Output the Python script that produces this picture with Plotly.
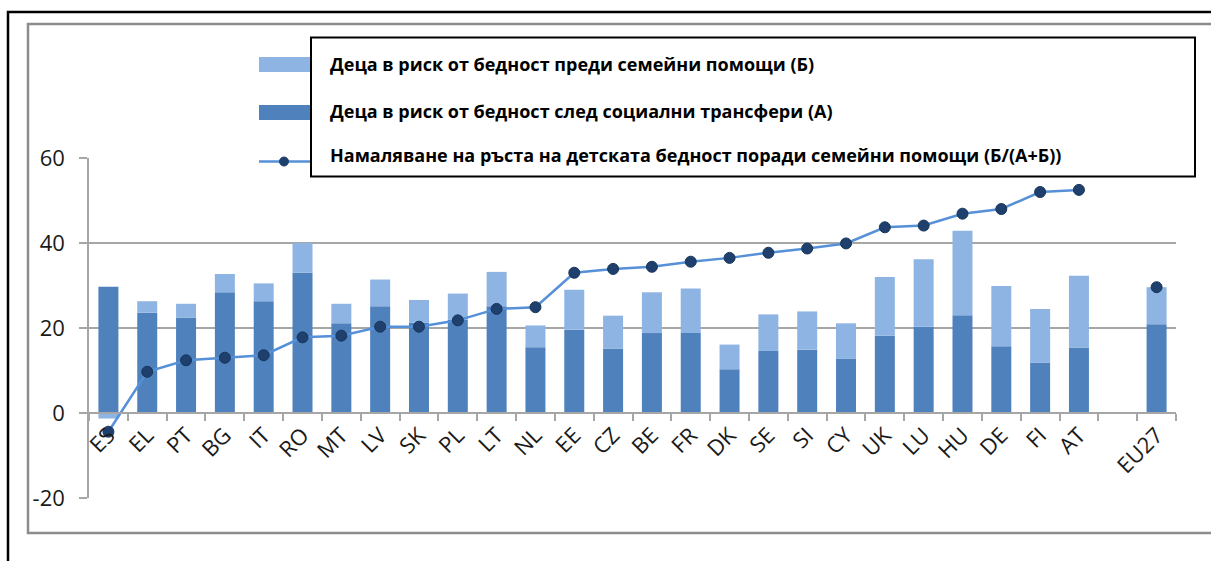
import plotly.graph_objects as go

# ---- data ----
countries = ["ES", "EL", "PT", "BG", "IT", "RO", "MT", "LV", "SK", "PL", "LT", "NL", "EE",
             "CZ", "BE", "FR", "DK", "SE", "SI", "CY", "UK", "LU", "HU", "DE", "FI", "AT",
             " ", "EU27"]
after_transfers = [29.7, 23.6, 22.4, 28.4, 26.3, 33.0, 21.1, 25.1, 21.2, 22.0, 25.1, 15.5, 19.6,
                   15.2, 18.8, 18.8, 10.3, 14.6, 14.9, 12.8, 18.2, 20.3, 23.0, 15.7, 11.9, 15.4,
                   None, 20.9]
family_benefit_part = [-1.3, 2.7, 3.3, 4.3, 4.2, 7.0, 4.6, 6.3, 5.4, 6.1, 8.1, 5.1, 9.4,
                       7.7, 9.6, 10.5, 5.8, 8.6, 9.0, 8.3, 13.8, 15.9, 19.9, 14.2, 12.6, 16.9,
                       None, 8.7]
reduction_pct = [-4.4, 9.7, 12.4, 13.0, 13.6, 17.8, 18.2, 20.3, 20.3, 21.8, 24.5, 24.9, 33.0,
                 33.9, 34.4, 35.6, 36.5, 37.7, 38.7, 39.9, 43.7, 44.1, 46.9, 48.0, 52.0, 52.5,
                 None, 29.6]
y_tickvals = [-20, 0, 20, 40, 60]
y_ticktext = ["-20", "0", "20", "40", "60"]
series_names = [
    "Деца в риск от бедност преди семейни помощи (Б)",
    "Деца в риск от бедност след социални трансфери (А)",
    "Намаляване на ръста на детската бедност поради семейни помощи (Б/(А+Б))",
]

# ---- style ----
C_LIGHT = "#8EB4E3"
C_DARK = "#4F81BD"
C_LINE = "#5590D8"
C_MARK = "#1F3F6C"
GRID = "#A6A6A6"
FONT = "'Open Sans', Lato, sans-serif"

W, H = 1211, 561
L, R, T, B = 89, 35, 158, 63
PW, PH = W - L - R, H - T - B


def px(x):
    return (x - L) / PW


def py(y):
    return (H - B - y) / PH


fig = go.Figure()
fig.add_trace(go.Bar(x=countries, y=after_transfers, name=series_names[1],
                     marker=dict(color=C_DARK, line=dict(width=0)), showlegend=False))
fig.add_trace(go.Bar(x=countries, y=family_benefit_part, name=series_names[0],
                     marker=dict(color=C_LIGHT, line=dict(width=0)), showlegend=False))
fig.add_trace(go.Scatter(x=countries, y=reduction_pct, name=series_names[2], mode="lines+markers",
                         line=dict(color=C_LINE, width=2.5),
                         marker=dict(size=11, color=C_MARK, line=dict(color="#17365D", width=1)),
                         connectgaps=False, showlegend=False))

shapes = []
# outer frames
shapes.append(dict(type="rect", xref="paper", yref="paper", x0=px(8), x1=px(1230), y0=py(590), y1=py(12),
                   line=dict(color="black", width=2.5), fillcolor="rgba(0,0,0,0)", layer="below"))
shapes.append(dict(type="rect", xref="paper", yref="paper", x0=px(28), x1=px(1230), y0=py(533), y1=py(24),
                   line=dict(color="#8C8C8C", width=2.5), fillcolor="rgba(0,0,0,0)", layer="below"))
# legend swatches
shapes.append(dict(type="rect", xref="paper", yref="paper", x0=px(259), x1=px(320), y0=py(72), y1=py(57),
                   line=dict(width=0), fillcolor=C_LIGHT, layer="above"))
shapes.append(dict(type="rect", xref="paper", yref="paper", x0=px(259), x1=px(320), y0=py(120), y1=py(105),
                   line=dict(width=0), fillcolor=C_DARK, layer="above"))
shapes.append(dict(type="line", xref="paper", yref="paper", x0=px(259), x1=px(320), y0=py(161.5), y1=py(161.5),
                   line=dict(color=C_LINE, width=2.5), layer="above"))
shapes.append(dict(type="circle", xref="paper", yref="paper", x0=px(279.5), x1=px(288.5), y0=py(166), y1=py(157),
                   line=dict(color=C_MARK, width=1), fillcolor=C_MARK, layer="above"))
# legend box
shapes.append(dict(type="rect", xref="paper", yref="paper", x0=px(311), x1=px(1195), y0=py(176.5), y1=py(37.5),
                   line=dict(color="black", width=2), fillcolor="white", layer="above"))

annotations = []
for i, yy in enumerate([64, 111, 155]):
    annotations.append(dict(xref="paper", yref="paper", x=px(328), y=py(yy), xanchor="left", yanchor="middle",
                            text="<b>" + series_names[i] + "</b>", showarrow=False,
                            font=dict(family=FONT, size=18, color="black")))

fig.update_layout(
    width=W, height=H, margin=dict(l=L, r=R, t=T, b=B),
    paper_bgcolor="white", plot_bgcolor="white",
    barmode="relative", bargap=0.485,
    shapes=shapes, annotations=annotations,
    font=dict(family=FONT, size=21, color="#1A1A1A"),
    xaxis=dict(type="category", range=[-0.5, len(countries) - 0.5], tickangle=-45,
               anchor="free", position=0.25,
               showline=True, linecolor=GRID, linewidth=1.5,
               ticks="outside", tickson="boundaries", ticklen=7, tickcolor=GRID, tickwidth=1.5,
               showgrid=False, tickfont=dict(family=FONT, size=22, color="#1A1A1A")),
    yaxis=dict(range=[-20, 60], tickvals=y_tickvals, ticktext=y_ticktext,
               showline=True, linecolor=GRID, linewidth=1.5,
               ticks="outside", ticklen=8, tickcolor=GRID, tickwidth=1.5,
               showgrid=True, gridcolor=GRID, gridwidth=1.5, zeroline=False,
               ticklabelstandoff=10, tickfont=dict(family=FONT, size=22, color="#1A1A1A")),
)

fig.write_html("out.html", config={"displayModeBar": False},
               post_script="document.body.style.margin='0';")
